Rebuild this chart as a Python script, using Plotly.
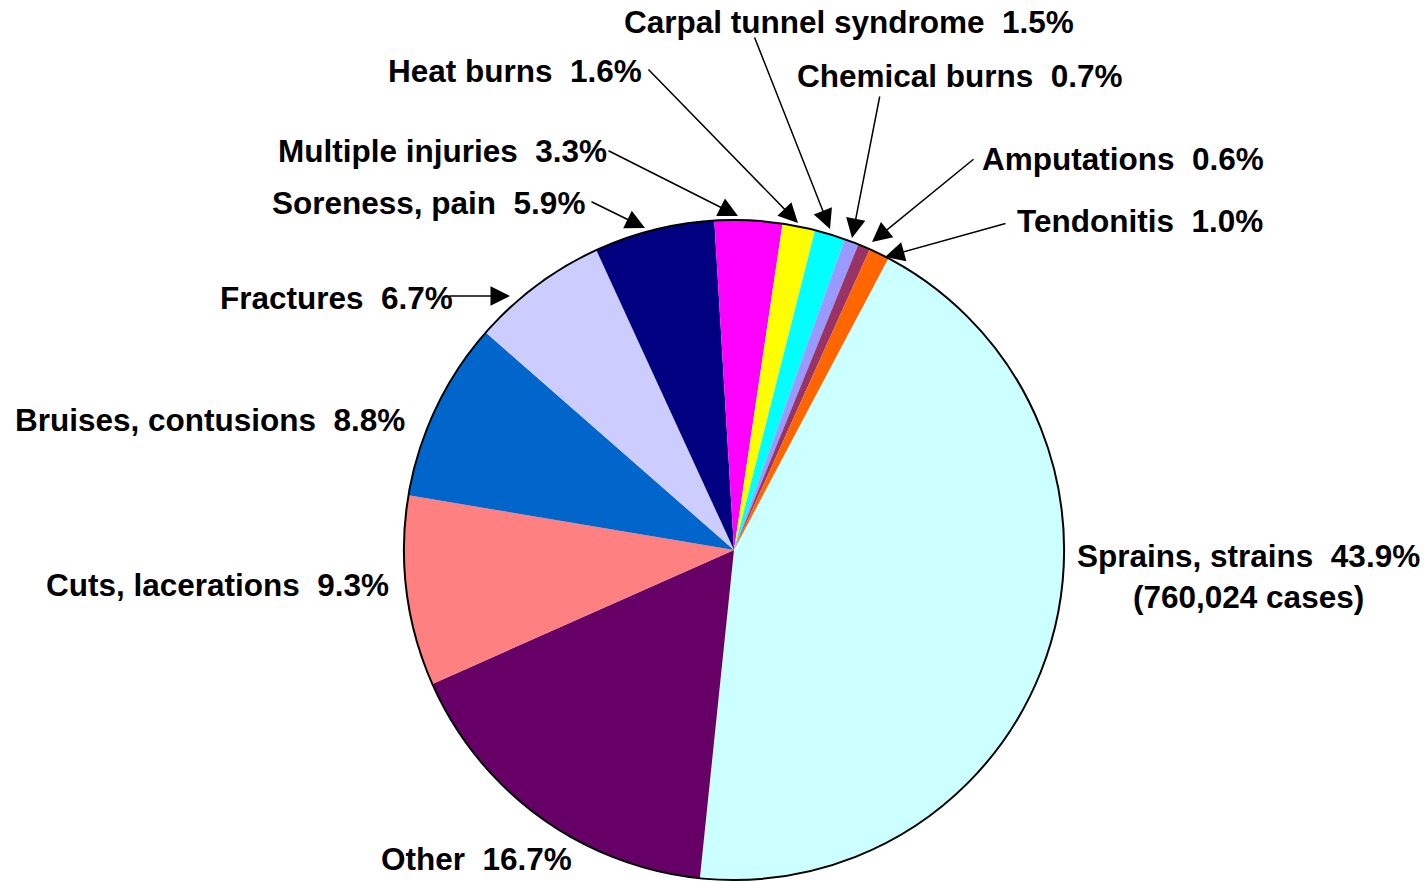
import plotly.graph_objects as go

# ---- data ----
categories = ["Sprains, strains", "Other", "Cuts, lacerations", "Bruises, contusions",
              "Fractures", "Soreness, pain", "Multiple injuries", "Heat burns",
              "Carpal tunnel syndrome", "Chemical burns", "Amputations", "Tendonitis"]
percents = [43.9, 16.7, 9.3, 8.8, 6.7, 5.9, 3.3, 1.6, 1.5, 0.7, 0.6, 1.0]
sprains_cases = "760,024"

colors = ["#CCFFFF", "#660066", "#FF8080", "#0066CC", "#CCCCFF", "#000080",
          "#FF00FF", "#FFFF00", "#00FFFF", "#9999FF", "#993366", "#FF6600"]

# ---- layout ----
W, H = 1428, 881
CX, CY, R = 734, 550, 330
ROT = 27.9
FONT = dict(family="Liberation Sans, Arial, sans-serif", size=31.5, color="black", weight="bold")

dom_x = [(CX - R) / W, (CX + R) / W]
dom_y = [1 - (CY + R) / H, 1 - (CY - R) / H]

fig = go.Figure()
fig.add_trace(go.Pie(
    labels=categories, values=percents, sort=False, direction="clockwise",
    rotation=ROT, marker=dict(colors=colors, line=dict(width=0)),
    textinfo="none", hoverinfo="label+percent", showlegend=False,
    domain=dict(x=dom_x, y=dom_y)))
# black outer outline
fig.add_trace(go.Pie(
    values=[1], sort=False, marker=dict(colors=["rgba(0,0,0,0)"], line=dict(color="black", width=2)),
    textinfo="none", hoverinfo="skip", showlegend=False,
    domain=dict(x=dom_x, y=dom_y)))

def px(x): return x / W
def py(y): return 1 - y / H

NB = "\u00a0"
def lab(i):
    return f"{categories[i]}{NB}{NB}{percents[i]:.1f}%"

# label placements: (index, left x px, centre y px)
label_pos = [
    (1, 379, 859), (2, 44, 585), (3, 13, 420), (4, 218, 298), (5, 270, 203),
    (6, 276, 151), (7, 386, 71), (8, 622, 22), (9, 795, 76), (10, 980, 159),
    (11, 1015, 221),
]
annotations = []
for i, x, y in label_pos:
    annotations.append(dict(text=lab(i), x=px(x), y=py(y), xref="paper", yref="paper",
                            xanchor="left", yanchor="middle", showarrow=False, font=FONT))
annotations.append(dict(text=lab(0) + f"<br>({sprains_cases} cases)", x=px(1248), y=py(576),
                        xref="paper", yref="paper", xanchor="center", yanchor="middle",
                        align="center", showarrow=False, font=FONT))

# arrows: (tail px, tip px)
arrows = [
    ((754, 36), (830, 229)),
    ((880, 95), (852, 238)),
    ((975, 158), (872, 242)),
    ((1007, 223), (885, 257)),
    ((647, 68), (798, 223)),
    ((607, 150), (738, 216)),
    ((590, 201), (645, 228)),
    ((448, 296), (510, 296)),
]
for (tx, ty), (hx, hy) in arrows:
    annotations.append(dict(text="", x=px(hx), y=py(hy), xref="paper", yref="paper",
                            ax=tx - hx, ay=ty - hy, axref="pixel", ayref="pixel",
                            showarrow=True, arrowhead=2, arrowsize=2.6, arrowwidth=1.5,
                            arrowcolor="black", standoff=0, font=dict(size=1)))

fig.update_layout(width=W, height=H, margin=dict(l=0, r=0, t=0, b=0),
                  paper_bgcolor="white", plot_bgcolor="white", annotations=annotations)

fig.write_html("out.html", config={"displayModeBar": False},
               post_script="document.body.style.margin='0';document.body.style.overflow='hidden';")
